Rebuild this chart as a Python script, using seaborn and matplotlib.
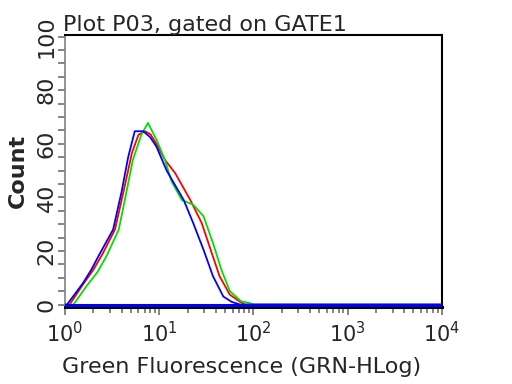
import matplotlib
matplotlib.use("Agg")
import matplotlib.pyplot as plt
import matplotlib.ticker as mticker
import numpy as np
import pandas as pd
import seaborn as sns

# fluorescence (GRN-HLog) and counts
red_x = [1.0, 1.12, 1.55, 2.0, 2.51, 3.39, 4.17, 5.13, 6.03, 7.08, 8.1, 9.33, 11.5, 14.8, 21.4, 28.2, 36.3, 43.7, 56.2, 72.4, 81.3, 10000]
red_y = [0, 0, 7.5, 13, 19, 28, 42, 56.6, 63.4, 64.7, 63.5, 60, 54, 49, 39, 30.5, 19, 10.6, 3.7, 1, 0, 0]

green_x = [1.0, 1.23, 1.70, 2.2, 2.75, 3.72, 4.47, 5.25, 6.46, 7.59, 9.33, 11.5, 13.5, 17.4, 22.9, 29.5, 37.2, 45.7, 56.2, 74.1, 91.2, 100, 10000]
green_y = [0, 0, 7, 12, 18, 28, 41.7, 54, 63.4, 67.8, 61.6, 54, 46, 39, 37.3, 33, 23, 13, 5, 1.2, 0.6, 0, 0]

blue_x = [1.0, 1.05, 1.55, 1.9, 2.34, 3.24, 3.98, 4.68, 5.50, 6.76, 8.0, 9.33, 12.0, 18.2, 22.9, 29.5, 37.2, 47.9, 58.9, 72.4, 10000]
blue_y = [0, 0, 8, 13, 19, 28, 42, 55, 64.7, 64.7, 62.5, 59, 50, 39, 30.5, 20.5, 10.6, 3, 1, 0, 0]

samples = ["red", "green", "blue"]
colors = {"red": "#ff0000", "green": "#00e000", "blue": "#0000ff"}

df = pd.concat([
    pd.DataFrame({"x": red_x, "count": red_y, "sample": "red"}),
    pd.DataFrame({"x": green_x, "count": green_y, "sample": "green"}),
    pd.DataFrame({"x": blue_x, "count": blue_y, "sample": "blue"}),
])

sns.set_style("ticks")
plt.rcParams["font.family"] = ["DejaVu Sans"]

fig = plt.figure(figsize=(5.12, 3.84), dpi=100)
ax = fig.add_axes([0.127, 0.2005, 0.736, 0.7083])

for s in samples:
    sns.lineplot(data=df[df["sample"] == s], x="x", y="count", color=colors[s],
                 lw=1.3, ax=ax, estimator=None, sort=False, legend=False,
                 zorder=3)
# heavier zero line of the last (blue) histogram, as in the reference
sns.lineplot(x=[blue_x[0], blue_x[-1]], y=[blue_y[0], blue_y[-1]], color=colors["blue"],
             lw=2.2, ax=ax, zorder=3)

ax.set_xscale("log")
ax.set_xlim(1, 10000)
ax.set_ylim(-0.9, 100.6)

ax.xaxis.set_major_locator(mticker.LogLocator(base=10, numticks=10))
ax.xaxis.set_minor_locator(mticker.LogLocator(base=10, subs=np.arange(2, 10), numticks=50))
ax.yaxis.set_major_locator(mticker.MultipleLocator(20))
ax.yaxis.set_minor_locator(mticker.MultipleLocator(5))

ax.tick_params(axis="both", which="both", color="#707070", direction="out", width=1.2)
ax.tick_params(axis="x", which="major", length=6, labelsize=15, pad=4)
ax.tick_params(axis="x", which="minor", length=4)
ax.tick_params(axis="y", which="both", length=5)
ax.tick_params(axis="y", which="major", labelsize=16, pad=1)
for lab in ax.get_yticklabels():
    lab.set_rotation(90)
    lab.set_va("center")

for side in ["top", "right", "bottom"]:
    ax.spines[side].set_color("black")
    ax.spines[side].set_linewidth(1.5)
ax.spines["bottom"].set_linewidth(2.2)
ax.spines["left"].set_color("#808080")
ax.spines["left"].set_linewidth(1.2)

ax.set_title("Plot P03, gated on GATE1", loc="left", fontsize=16, pad=2, x=-0.006)
ax.set_ylabel("Count", fontsize=16, fontweight="bold", labelpad=6)
ax.set_xlabel("Green Fluorescence (GRN-HLog)", fontsize=16)
ax.xaxis.set_label_coords(0.468, -0.185)

fig.savefig("out.png", dpi=100)
